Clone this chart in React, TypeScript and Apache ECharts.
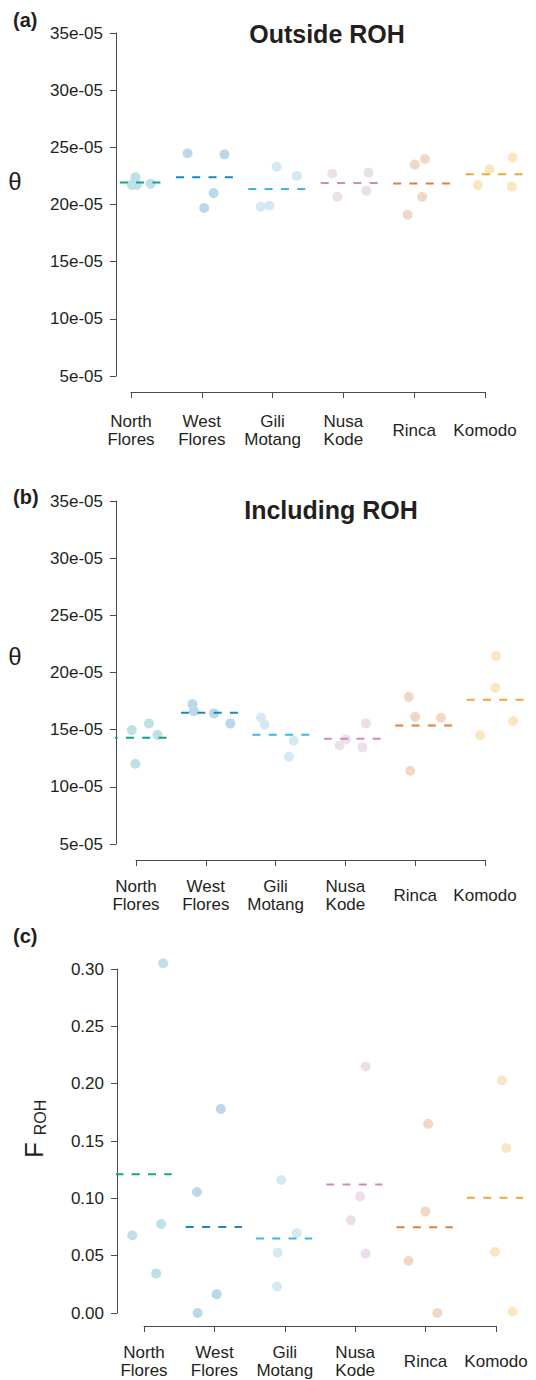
import React, { useEffect, useRef } from "react";
import * as echarts from "echarts";

const categories = ["North\nFlores", "West\nFlores", "Gili\nMotang", "Nusa\nKode", "Rinca", "Komodo"];
const pointColors = ["#bfe0e6", "#bcd8e8", "#d5e9f2", "#ebdfeb", "#f0d8c6", "#f9e7c4"];
const meanColors = ["#12a58a", "#1a86c4", "#3ab7ea", "#cf8db5", "#e0803a", "#eda932"];

// Panel (a): theta outside ROH, in units of 1e-05
const outsideValues = [
  [22.39, 21.72, 21.72, 21.81],
  [24.48, 24.39, 21.0, 19.7],
  [23.31, 22.5, 19.81, 19.9],
  [22.7, 22.79, 21.2, 20.68],
  [23.49, 23.98, 20.68, 19.1],
  [23.09, 24.1, 21.7, 21.58],
];
const outsideJitter = [
  [0.04, -0.01, 0.06, 0.25],
  [-0.24, 0.27, 0.12, -0.01],
  [-0.01, 0.27, -0.23, -0.11],
  [-0.24, 0.26, 0.23, -0.17],
  [-0.1, 0.04, 0.0, -0.2],
  [-0.07, 0.25, -0.23, 0.24],
];
const outsideMeans = [21.92, 22.39, 21.35, 21.87, 21.84, 22.65];

// Panel (b): theta including ROH, in units of 1e-05
const includingValues = [
  [14.96, 15.55, 14.55, 12.02],
  [17.23, 16.62, 16.42, 15.55],
  [16.07, 15.43, 14.03, 12.63],
  [13.62, 14.15, 13.45, 15.55],
  [17.87, 16.12, 16.04, 11.41],
  [21.45, 18.66, 15.75, 14.52],
];
const includingJitter = [
  [-0.09, 0.15, 0.27, -0.04],
  [-0.24, -0.22, 0.06, 0.29],
  [-0.28, -0.23, 0.18, 0.11],
  [-0.18, -0.09, 0.14, 0.19],
  [-0.21, -0.12, 0.24, -0.19],
  [0.01, 0.0, 0.25, -0.21],
];
const includingMeans = [14.29, 16.47, 14.55, 14.2, 15.37, 17.61];

// Panel (c): F_ROH
const frohValues = [
  [0.305, 0.0677, 0.0345, 0.0776],
  [0.178, 0.1055, 0.0, 0.0164],
  [0.116, 0.0697, 0.0526, 0.0231],
  [0.215, 0.1017, 0.0808, 0.0517],
  [0.165, 0.0886, 0.0456, 0.0],
  [0.203, 0.144, 0.0534, 0.0013],
];
const frohJitter = [
  [0.28, -0.16, 0.18, 0.25],
  [0.1, -0.24, -0.23, 0.04],
  [-0.04, 0.18, -0.09, -0.1],
  [0.16, 0.08, -0.05, 0.16],
  [0.05, 0.01, -0.23, 0.18],
  [0.1, 0.16, 0.0, 0.25],
];
const frohMeans = [0.121, 0.075, 0.065, 0.112, 0.0747, 0.1006];

const thetaTicks = { min: 5, max: 35, interval: 5 };
const frohTicks = { min: 0, max: 0.3, interval: 0.05 };

const FONT = "'Liberation Sans', Arial, Helvetica, sans-serif";
const AXIS_COLOR = "#4a4a4a";
const TEXT_COLOR = "#231f20";

export default function App() {
  const ref = useRef<HTMLDivElement>(null);

  useEffect(() => {
    if (!ref.current) return;
    const chart = echarts.init(ref.current, undefined, { renderer: "svg" });

    const panels = [
      {
        values: outsideValues, jitter: outsideJitter, means: outsideMeans,
        dataTop: 33, dataHeight: 343, dataLeft: 116, firstCenter: 132.5, spacing: 72.4,
        tickLeft: 131, tickWidth: 354, tickAxisY: 392, labelMargin: 38,
        ticks: thetaTicks, fmt: (v: number) => `${v}e-05`,
      },
      {
        values: includingValues, jitter: includingJitter, means: includingMeans,
        dataTop: 501, dataHeight: 343, dataLeft: 116, firstCenter: 138.2, spacing: 71.4,
        tickLeft: 136, tickWidth: 349, tickAxisY: 860, labelMargin: 35,
        ticks: thetaTicks, fmt: (v: number) => `${v}e-05`,
      },
      {
        values: frohValues, jitter: frohJitter, means: frohMeans,
        dataTop: 969, dataHeight: 344, dataLeft: 117, firstCenter: 143.5, spacing: 70.3,
        tickLeft: 144, tickWidth: 352, tickAxisY: 1326, labelMargin: 35,
        ticks: frohTicks, fmt: (v: number) => v.toFixed(2),
      },
    ];

    const grid: any[] = [];
    const xAxis: any[] = [];
    const yAxis: any[] = [];
    const series: any[] = [];
    const totalWidth = 536;

    panels.forEach((p, pi) => {
      const dataIdx = pi * 2;
      const tickIdx = pi * 2 + 1;
      const dataWidth = totalWidth - p.dataLeft;
      const xmin = 1 - (p.firstCenter - p.dataLeft) / p.spacing;
      const xmax = xmin + dataWidth / p.spacing;

      grid.push({ left: p.dataLeft, width: dataWidth, top: p.dataTop, height: p.dataHeight });
      grid.push({ left: p.tickLeft, width: p.tickWidth, top: p.tickAxisY - 12, height: 12 });

      xAxis.push({ gridIndex: dataIdx, type: "value", min: xmin, max: xmax, show: false });
      xAxis.push({
        gridIndex: tickIdx,
        type: "category",
        data: categories,
        boundaryGap: false,
        position: "bottom",
        axisLine: { show: true, lineStyle: { color: AXIS_COLOR, width: 1 } },
        axisTick: { show: true, length: 6, lineStyle: { color: AXIS_COLOR, width: 1 } },
        axisLabel: {
          interval: 0,
          fontSize: 17,
          lineHeight: 18,
          color: TEXT_COLOR,
          fontFamily: FONT,
          verticalAlign: "middle",
          margin: p.labelMargin,
        },
        splitLine: { show: false },
      });

      yAxis.push({
        gridIndex: dataIdx,
        type: "value",
        min: p.ticks.min,
        max: p.ticks.max,
        interval: p.ticks.interval,
        axisLine: { show: true, lineStyle: { color: AXIS_COLOR, width: 1 } },
        axisTick: { show: true, length: 6, lineStyle: { color: AXIS_COLOR, width: 1 } },
        axisLabel: {
          formatter: p.fmt,
          fontSize: 17,
          color: TEXT_COLOR,
          fontFamily: FONT,
          margin: 13,
        },
        splitLine: { show: false },
      });
      yAxis.push({ gridIndex: tickIdx, type: "value", show: false });

      p.values.forEach((vals, g) => {
        series.push({
          type: "scatter",
          xAxisIndex: dataIdx,
          yAxisIndex: dataIdx,
          data: vals.map((v, i) => [g + 1 + p.jitter[g][i], v]),
          symbolSize: 10,
          itemStyle: { color: pointColors[g], opacity: 1 },
          clip: false,
          z: 2,
          silent: true,
        });
      });
      p.means.forEach((m, g) => {
        series.push({
          type: "line",
          xAxisIndex: dataIdx,
          yAxisIndex: dataIdx,
          data: [
            [g + 1 - 0.4, m],
            [g + 1 + 0.4, m],
          ],
          symbol: "none",
          lineStyle: { color: meanColors[g], width: 2, type: [8, 8.3] },
          clip: true,
          z: 3,
          silent: true,
        });
      });
    });

    const graphic: any[] = [
      { type: "text", x: 13, y: 20, style: { text: "(a)", font: `bold 20px ${FONT}`, fill: TEXT_COLOR, verticalAlign: "middle" } },
      { type: "text", x: 13, y: 497, style: { text: "(b)", font: `bold 20px ${FONT}`, fill: TEXT_COLOR, verticalAlign: "middle" } },
      { type: "text", x: 13, y: 936, style: { text: "(c)", font: `bold 20px ${FONT}`, fill: TEXT_COLOR, verticalAlign: "middle" } },
      { type: "text", x: 327, y: 34, style: { text: "Outside ROH", font: `bold 25px ${FONT}`, fill: TEXT_COLOR, align: "center", verticalAlign: "middle" } },
      { type: "text", x: 331, y: 510, style: { text: "Including ROH", font: `bold 25px ${FONT}`, fill: TEXT_COLOR, align: "center", verticalAlign: "middle" } },
      { type: "text", x: 15, y: 181, style: { text: "θ", font: `24px ${FONT}`, fill: TEXT_COLOR, align: "center", verticalAlign: "middle" } },
      { type: "text", x: 15, y: 656, style: { text: "θ", font: `24px ${FONT}`, fill: TEXT_COLOR, align: "center", verticalAlign: "middle" } },
      { type: "text", x: 34, y: 1150, rotation: Math.PI / 2, style: { text: "F", font: `26px ${FONT}`, fill: TEXT_COLOR, align: "center", verticalAlign: "middle" } },
      { type: "text", x: 40.5, y: 1117.5, rotation: Math.PI / 2, style: { text: "ROH", font: `16px ${FONT}`, fill: TEXT_COLOR, align: "center", verticalAlign: "middle" } },
    ];

    chart.setOption({
      animation: false,
      backgroundColor: "#ffffff",
      grid,
      xAxis,
      yAxis,
      series,
      graphic,
    });

    return () => chart.dispose();
  }, []);

  return (
    <div
      ref={ref}
      style={{ position: "absolute", left: 0, top: 0, width: 536, height: 1380 }}
    />
  );
}
